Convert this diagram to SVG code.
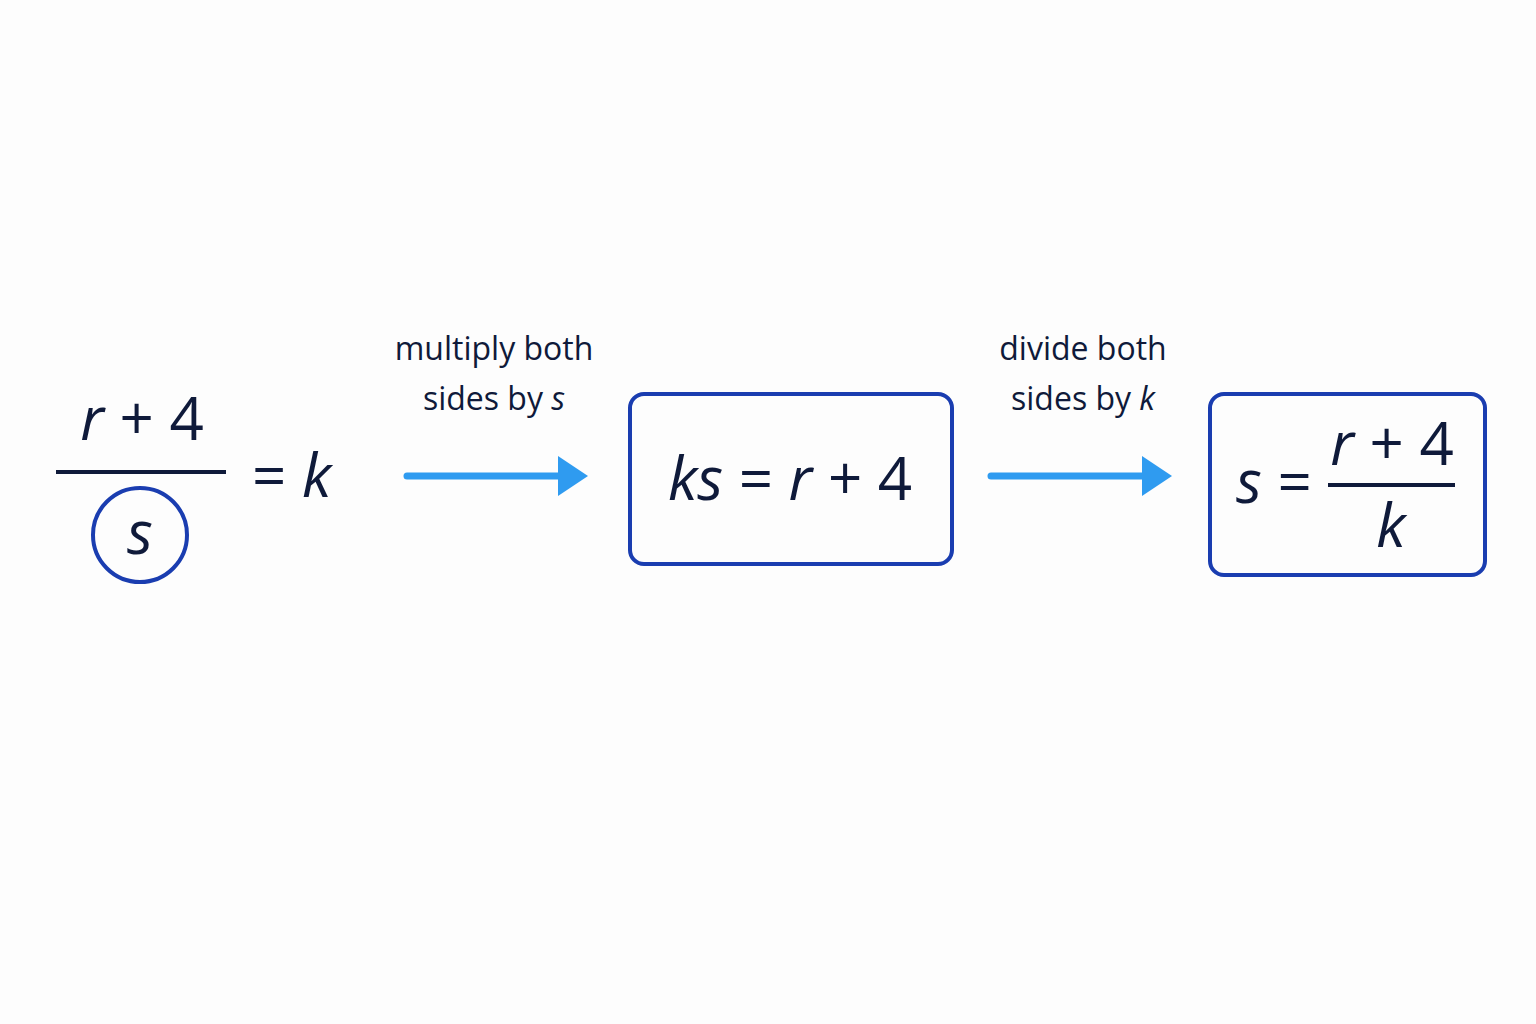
<svg xmlns="http://www.w3.org/2000/svg" width="1536" height="1024" viewBox="0 0 1536 1024">
<style>
.m{font-family:"Open Sans","DejaVu Sans",sans-serif;fill:#0f1a3a;font-size:60px}
.i{font-style:italic}
.l{font-family:"Open Sans","DejaVu Sans",sans-serif;fill:#0f1a3a;font-size:32px;text-anchor:middle}
.box{fill:none;stroke:#1a3db0;stroke-width:4}
.ar{stroke:#2f9bf0;stroke-width:7;stroke-linecap:round}
</style>
<rect width="1536" height="1024" fill="#fdfdfd"/>
<g id="start">
<text class="m" x="142" y="440" text-anchor="middle"><tspan class="i">r</tspan> + 4</text>
<line x1="56" y1="472" x2="226" y2="472" stroke="#0f1a3a" stroke-width="4"/>
<circle class="box" cx="140" cy="535" r="47"/>
<text class="m i" x="140" y="554" text-anchor="middle">s</text>
<text class="m" x="252" y="497">= <tspan class="i">k</tspan></text>
</g>
<g id="connectors">
<line class="ar" x1="407" y1="476" x2="562" y2="476"/>
<polygon points="558,456 588,476 558,496" fill="#2f9bf0"/>
<text class="l" x="494" y="360">multiply both</text>
<text class="l" x="494" y="410">sides by <tspan font-style="italic">s</tspan></text>
<line class="ar" x1="991" y1="476" x2="1146" y2="476"/>
<polygon points="1142,456 1172,476 1142,496" fill="#2f9bf0"/>
<text class="l" x="1083" y="360">divide both</text>
<text class="l" x="1083" y="410">sides by <tspan font-style="italic">k</tspan></text>
</g>
<g id="step1">
<rect class="box" x="630" y="394" width="322" height="170" rx="14"/>
<text class="m" x="790" y="500" text-anchor="middle"><tspan class="i">ks</tspan> = <tspan class="i">r</tspan> + 4</text>
</g>
<g id="step2">
<rect class="box" x="1210" y="394" width="275" height="181" rx="14"/>
<text class="m" x="1236" y="503"><tspan class="i">s</tspan> =</text>
<text class="m" x="1392" y="465" text-anchor="middle"><tspan class="i">r</tspan> + 4</text>
<line x1="1328" y1="485" x2="1455" y2="485" stroke="#0f1a3a" stroke-width="4"/>
<text class="m i" x="1391" y="547" text-anchor="middle">k</text>
</g>
</svg>
